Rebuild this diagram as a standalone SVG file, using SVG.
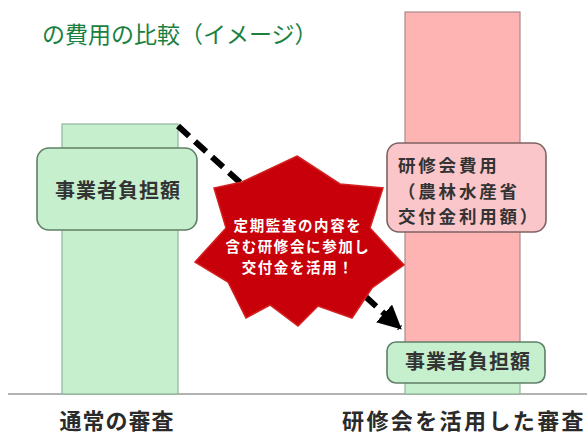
<svg xmlns="http://www.w3.org/2000/svg" width="587" height="436" viewBox="0 0 587 436">
  <style>
    .jp { font-family: "Noto Sans CJK JP", "Noto Sans", sans-serif; }
    .bar-g { fill: #c6efce; stroke: #8fb59a; stroke-width: 1.2; }
    .bar-p { fill: #ffb4b4; stroke: #a88a8a; stroke-width: 1.2; }
    .box-g { fill: #c6efce; stroke: #5f7f66; stroke-width: 1.6; }
    .box-p { fill: #fac6ca; stroke: #7f6262; stroke-width: 1.6; }
    .lbl { font-size: 20px; font-weight: 700; fill: #333333; letter-spacing: 1px; }
    .lbl2 { font-size: 17.5px; font-weight: 700; fill: #333333; letter-spacing: 2.8px; }
    .star-t { font-size: 14.5px; font-weight: 700; fill: #ffffff; text-anchor: middle; letter-spacing: 1.6px; }
    .axis-t { font-size: 22px; font-weight: 700; fill: #2a2a2a; }
  </style>
  <defs>
    <marker id="ah" viewBox="0 0 10 10" refX="9" refY="5" markerWidth="4" markerHeight="4" orient="auto" markerUnits="strokeWidth">
      <path d="M0,0 L10,5 L0,10 z" fill="#000000"/>
    </marker>
  </defs>
  <rect width="587" height="436" fill="#ffffff"/>

  <g id="title">
    <text class="jp" x="42" y="43" font-size="23" fill="#1a8040">の費用の比較（イメージ）</text>
  </g>

  <g id="baseline">
    <line x1="8" y1="394" x2="587" y2="394" stroke="#9a9a9a" stroke-width="1.5"/>
  </g>

  <g id="bar-normal">
    <rect class="bar-g" x="62" y="124" width="116" height="270"/>
  </g>

  <g id="bar-training">
    <rect class="bar-p" x="405" y="12" width="115" height="335"/>
    <rect class="bar-g" x="405" y="347" width="115" height="47"/>
  </g>

  <g id="connectors">
    <line x1="178" y1="126" x2="400" y2="328" stroke="#000000" stroke-width="6" stroke-dasharray="15 8" marker-end="url(#ah)"/>
  </g>

  <g id="box-normal">
    <rect class="box-g" x="37" y="148" width="160" height="82" rx="12"/>
    <text class="jp lbl" x="118" y="198" text-anchor="middle">事業者負担額</text>
  </g>

  <g id="box-fee">
    <rect class="box-p" x="387" y="143" width="159" height="89" rx="12"/>
    <text class="jp lbl2" x="398" y="172">研修会費用</text>
    <text class="jp lbl2" x="398" y="197.5">（農林水産省</text>
    <text class="jp lbl2" x="398" y="223">交付金利用額）</text>
  </g>

  <g id="box-burden">
    <rect class="box-g" x="387" y="342" width="158" height="41" rx="9"/>
    <text class="jp lbl" x="468" y="369" text-anchor="middle">事業者負担額</text>
  </g>

  <g id="star">
    <polygon points="297,156 340,184 383,188 370,228 404,265 372,288 352,318 318,306 298,326 270,305 246,318 228,282 195,262 226,228 214,188 242,182" fill="#c8000a" stroke="#d42020" stroke-width="1.5" stroke-linejoin="miter"/>
    <text class="jp star-t" x="298" y="231">定期監査の内容を</text>
    <text class="jp star-t" x="298" y="252">含む研修会に参加し</text>
    <text class="jp star-t" x="298" y="273">交付金を活用！</text>
  </g>

  <g id="axis-labels">
    <text class="jp axis-t" x="117" y="429" text-anchor="middle" letter-spacing="1">通常の審査</text>
    <text class="jp axis-t" x="342" y="429" letter-spacing="2.4">研修会を活用した審査</text>
  </g>
</svg>
